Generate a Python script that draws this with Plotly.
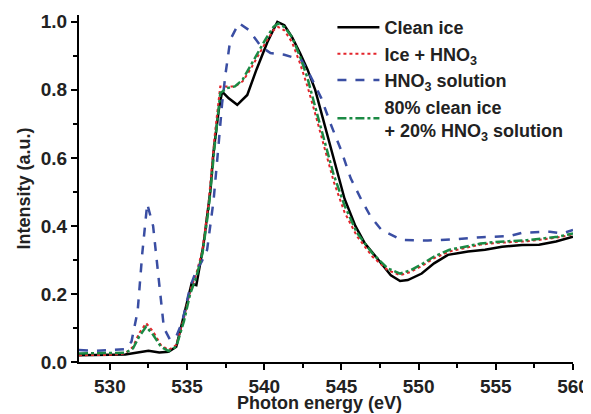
import plotly.graph_objects as go

# Clean ice
clean_E = [528, 529, 530, 531, 531.8, 532.5, 533.2, 533.8, 534.3, 534.86, 535.29, 535.6, 536.05, 536.5, 536.72, 537.05, 537.27,
           537.7, 538.25, 538.9, 539.5, 540.2, 540.85, 541.3, 541.8, 542.3, 542.8, 543.3, 543.9, 544.5, 545.2, 545.9,
           546.5, 547.4, 548.2, 548.8, 549.3, 550.2, 551.0, 551.9, 553.2, 554.3, 555.4, 556.7, 557.8, 558.9, 560]
clean_I = [0.02, 0.02, 0.021, 0.022, 0.028, 0.033, 0.028, 0.03, 0.045, 0.153, 0.23, 0.226, 0.34, 0.5, 0.62, 0.74, 0.795,
           0.775, 0.756, 0.785, 0.86, 0.94, 1.0, 0.99, 0.955, 0.91, 0.86, 0.8, 0.7, 0.6, 0.48, 0.4,
           0.35, 0.3, 0.255, 0.238, 0.241, 0.26, 0.29, 0.315, 0.325, 0.33, 0.339, 0.344, 0.345, 0.354, 0.368]

# Ice + HNO3
mix_E = [528, 529, 530, 531, 531.5, 531.9, 532.35, 532.8, 533.3, 533.8, 534.3, 534.8, 535.2, 535.6, 536.0, 536.4, 536.8,
         537.15, 537.6, 538.1, 538.6, 539.1, 539.6, 540.1, 540.6, 540.9, 541.3, 541.8, 542.3, 542.8, 543.3, 543.9,
         544.5, 545.2, 546.0, 547.0, 548.0, 548.8, 549.5, 550.3, 551.0, 552.0, 553.0, 554.0, 555.0, 556.0, 557.0,
         558.0, 559.0, 560]
ice_hno3_I = [0.02, 0.02, 0.021, 0.025, 0.045, 0.085, 0.114, 0.09, 0.05, 0.035, 0.05, 0.13, 0.21, 0.26, 0.33, 0.47, 0.67,
              0.81, 0.81, 0.81, 0.825, 0.86, 0.9, 0.94, 0.975, 0.985, 0.975, 0.94, 0.88, 0.81, 0.73, 0.63,
              0.53, 0.44, 0.37, 0.31, 0.27, 0.255, 0.265, 0.285, 0.305, 0.325, 0.335, 0.345, 0.35, 0.352, 0.355,
              0.36, 0.366, 0.375]

# 80% clean ice + 20% HNO3 solution
blend_I = [0.025, 0.025, 0.025, 0.027, 0.04, 0.075, 0.104, 0.08, 0.045, 0.032, 0.045, 0.12, 0.2, 0.25, 0.32, 0.45, 0.64,
           0.79, 0.805, 0.81, 0.83, 0.87, 0.91, 0.95, 0.985, 0.995, 0.985, 0.955, 0.9, 0.835, 0.75, 0.65,
           0.55, 0.46, 0.38, 0.32, 0.275, 0.26, 0.27, 0.29, 0.31, 0.33, 0.34, 0.348, 0.353, 0.355, 0.358,
           0.363, 0.368, 0.378]

# HNO3 solution
sol_E = [528, 529, 530, 531, 531.4, 531.8, 532.1, 532.42, 532.8, 533.2, 533.5, 533.9, 534.3, 534.7, 535.2, 535.6, 535.95,
         536.3, 536.72, 537.05, 537.27, 537.5, 537.8, 538.35, 539.0, 539.8, 540.4, 541.3, 542.4, 543.0, 543.7, 544.3,
         545.0, 545.6, 546.3, 546.9, 547.6, 548.9, 550.6, 552.4, 554.1, 555.9, 556.7, 558.5, 559.3, 560]
sol_I = [0.035, 0.033, 0.035, 0.038, 0.06, 0.15, 0.32, 0.465, 0.4, 0.22, 0.1, 0.065, 0.075, 0.12, 0.22, 0.27, 0.295,
         0.33, 0.476, 0.643, 0.76, 0.85, 0.947, 0.996, 0.976, 0.927, 0.908, 0.903, 0.888, 0.84, 0.775, 0.7,
         0.62, 0.54, 0.476, 0.427, 0.388, 0.359, 0.357, 0.361, 0.367, 0.37, 0.38, 0.383, 0.378, 0.388]

names = ["<b>Clean ice</b>", "<b>Ice + HNO<sub>3</sub></b>", "<b>HNO<sub>3</sub> solution</b>",
         "<b>80% clean ice<br>+ 20% HNO<sub>3</sub> solution</b>"]
x_title = "<b>Photon energy (eV)</b>"
y_title = "<b>Intensity (a.u.)</b>"

FONT = "Liberation Sans, Arial, sans-serif"

fig = go.Figure()
fig.add_trace(go.Scatter(x=clean_E, y=clean_I, mode="lines", name=names[0], legendgroup="a",
                         line=dict(color="black", width=2.5)))
fig.add_trace(go.Scatter(x=mix_E, y=ice_hno3_I, mode="lines", name=names[1], legendgroup="b",
                         line=dict(color="#e3242b", width=2, dash="dot")))
fig.add_trace(go.Scatter(x=sol_E, y=sol_I, mode="lines", name=names[2], legendgroup="c",
                         line=dict(color="#3a4ea3", width=2.5, dash="dash")))
fig.add_trace(go.Scatter(x=mix_E, y=blend_I, mode="lines", name=names[3], legendgroup="d",
                         line=dict(color="#1b8a44", width=2.5, dash="dashdot")))

axis_common = dict(showline=True, linecolor="black", linewidth=2, ticks="outside", ticklen=6, tickwidth=2,
                   tickcolor="black", showgrid=False, zeroline=False, mirror=False, automargin=False,
                   tickfont=dict(family=FONT, size=19, color="#222"),
                   title_font=dict(family=FONT, size=18, color="#222"))

fig.update_xaxes(range=[528, 560], tick0=530, dtick=5,
                 minor=dict(ticks="outside", ticklen=4, tickwidth=1.5, tickcolor="black", dtick=2.5, tick0=527.5),
                 tickprefix="<b>", ticksuffix="</b>", **axis_common)
fig.update_yaxes(range=[0, 1.02], tick0=0, dtick=0.2, tickformat=".1f",
                 minor=dict(ticks="outside", ticklen=4, tickwidth=1.5, tickcolor="black", dtick=0.1),
                 title_text=y_title, title_standoff=5,
                 tickprefix="<b>", ticksuffix="</b>", **axis_common)

# x-axis title placed as an annotation so it sits as close under the tick labels as in the reference
fig.add_annotation(text=x_title, xref="paper", yref="paper", x=0.487, y=-0.117,
                   xanchor="center", yanchor="middle", showarrow=False,
                   font=dict(family=FONT, size=18, color="#222"))

# page body adds an 8px offset, so margins are set to land the plot where the reference has it
fig.update_layout(
    width=591, height=414,
    margin=dict(l=71, r=26, t=7, b=60, autoexpand=False),
    plot_bgcolor="white", paper_bgcolor="white",
    legend=dict(x=0.513, y=1.017, xanchor="left", yanchor="top", bgcolor="rgba(0,0,0,0)",
                font=dict(family=FONT, size=18, color="#222"), tracegroupgap=0,
                itemwidth=42),
    font=dict(family=FONT, color="#222"),
)

fig.write_html("out.html")
